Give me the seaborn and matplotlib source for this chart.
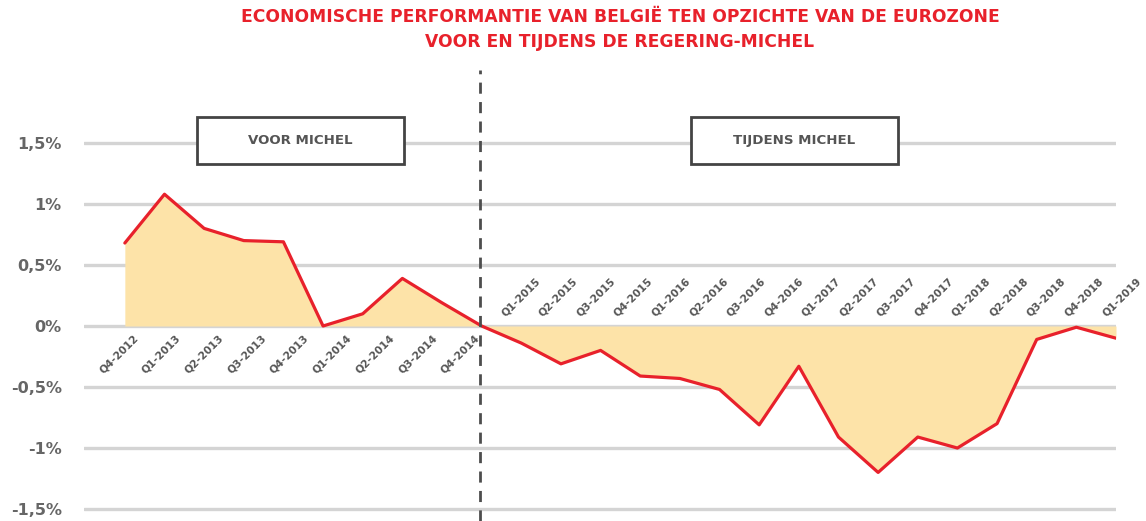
import matplotlib
matplotlib.use("Agg")
import matplotlib.pyplot as plt
from matplotlib.patches import Rectangle
import seaborn as sns
import pandas as pd

# quarters before / during the Michel government
quarters_voor = ["Q4-2012", "Q1-2013", "Q2-2013", "Q3-2013", "Q4-2013",
                 "Q1-2014", "Q2-2014", "Q3-2014", "Q4-2014"]
quarters_tijdens = ["Q1-2015", "Q2-2015", "Q3-2015", "Q4-2015", "Q1-2016",
                    "Q2-2016", "Q3-2016", "Q4-2016", "Q1-2017", "Q2-2017",
                    "Q3-2017", "Q4-2017", "Q1-2018", "Q2-2018", "Q3-2018",
                    "Q4-2018", "Q1-2019"]

# growth difference Belgium vs eurozone (%)
verschil_voor = [0.68, 1.08, 0.80, 0.70, 0.69, 0.00, 0.10, 0.39, 0.19]
verschil_tijdens = [0.00, -0.14, -0.31, -0.20, -0.41, -0.43, -0.52, -0.81,
                    -0.33, -0.91, -1.20, -0.91, -1.00, -0.80, -0.11, -0.01,
                    -0.10]

ytick_values = [-1.5, -1.0, -0.5, 0.0, 0.5, 1.0, 1.5]
ytick_labels = ["-1,5%", "-1%", "-0,5%", "0%", "0,5%", "1%", "1,5%"]

RED = "#e8212b"
FILL = "#fde3a8"
GREY_TXT = "#555555"

df = pd.DataFrame({
    "kwartaal": quarters_voor + quarters_tijdens,
    "verschil": verschil_voor + verschil_tijdens,
})
df["pos"] = range(len(df))

sns.set_style("white")
plt.rcParams["font.family"] = ["DejaVu Sans"]

fig = plt.figure(figsize=(11.46, 5.21), dpi=100)
ax = fig.add_axes([84 / 1146, 0, 1032 / 1146, 451 / 521])

ax.fill_between(df["pos"], 0, df["verschil"], color=FILL, lw=0, zorder=2)
sns.lineplot(data=df, x="pos", y="verschil", color=RED, lw=2.3, ax=ax, zorder=3)

ax.set_xlim(-1.03, len(df) - 1)
ax.set_ylim(-1.598, 2.098)
ax.set_yticks(ytick_values)
ax.set_yticklabels(ytick_labels, fontsize=11.5, fontweight="bold", color="#666666")
ax.tick_params(axis="y", length=0, pad=16)
ax.set_xticks([])
ax.set_xlabel("")
ax.set_ylabel("")
ax.grid(axis="y", color="#d4d4d4", lw=2.4)
ax.set_axisbelow(True)
sns.despine(ax=ax, left=True, bottom=True)

# quarter labels: below zero before, above zero during
n_voor = len(quarters_voor)
for _, row in df.iterrows():
    k = row["pos"]
    if k < n_voor:
        ax.annotate(row["kwartaal"], (k, 0), xytext=(8 + 3.06 * k, -7),
                    textcoords="offset pixels", rotation=45,
                    rotation_mode="anchor", ha="right", va="top",
                    fontsize=7.6, fontweight="bold", color=GREY_TXT)
    else:
        j = k - n_voor
        ax.annotate(row["kwartaal"], (k, 0), xytext=(25 - 2.1 * j, 8),
                    textcoords="offset pixels", rotation=45,
                    rotation_mode="anchor", ha="left", va="bottom",
                    fontsize=7.6, fontweight="bold", color=GREY_TXT)

# divider between the two periods
ax.axvline(n_voor - 0.05, color="#4d4d4d", lw=2, dashes=(4, 3), zorder=4)

# period boxes
for x0, label in [(113 / 1032, "VOOR MICHEL"), (607 / 1032, "TIJDENS MICHEL")]:
    w, h = 207 / 1032, 47 / 451
    y0 = 357 / 451
    ax.add_patch(Rectangle((x0, y0), w, h, transform=ax.transAxes,
                           facecolor="white", edgecolor="#444444", lw=2,
                           zorder=5))
    ax.text(x0 + w / 2, y0 + h / 2, label, transform=ax.transAxes,
            ha="center", va="center", fontsize=9.6, fontweight="bold",
            color=GREY_TXT, zorder=6)

fig.text(620 / 1146, 1 - 8 / 521,
         "ECONOMISCHE PERFORMANTIE VAN BELGIË TEN OPZICHTE VAN DE EUROZONE\n"
         "VOOR EN TIJDENS DE REGERING-MICHEL",
         ha="center", va="top", fontsize=12.3, fontweight="bold",
         color=RED, linespacing=1.5)

fig.savefig("out.png", dpi=100)
